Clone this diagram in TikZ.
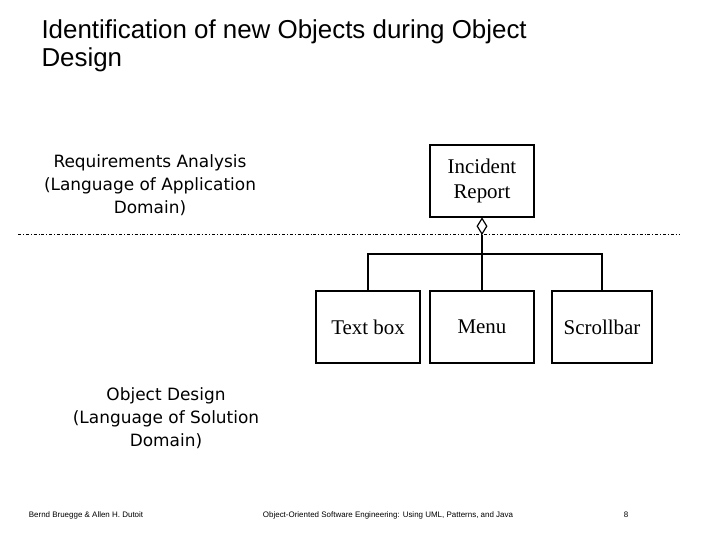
\documentclass[tikz,border=0pt]{standalone}
\usepackage{fontspec}
\setmainfont{Liberation Serif}
\newfontfamily\arialfont{Liberation Sans}
\newfontfamily\dejafont{DejaVu Sans}
\usetikzlibrary{positioning,shapes.geometric}

\tikzset{
    classbox/.style={draw=black,line width=1.2pt,minimum width=104bp,minimum height=72bp,
        font=\fontsize{21}{25}\selectfont,align=center,inner sep=2pt},
    langtext/.style={font=\dejafont\fontsize{17}{23}\selectfont,align=center},
    footer/.style={font=\arialfont\fontsize{8}{10}\selectfont}
}

\begin{document}
\begin{tikzpicture}[x=1bp,y=-1bp]
    \useasboundingbox (0,0) rectangle (720,540);

    \node[anchor=north west,align=left,font=\arialfont\fontsize{26}{28}\selectfont] (title) at (38,16)
        {Identification of new Objects during Object\\Design};

    \node[langtext] (req) at (150,185) {Requirements Analysis\\(Language of Application\\Domain)};
    \node[langtext] (od) at (166,418) {Object Design\\(Language of Solution\\Domain)};

    \node[classbox] (incident) at (482,181) {Incident\\Report};
    \node[classbox] (textbox) at (368,327) {Text box};
    \node[classbox] (menu) at (482,327) {Menu};
    \node[classbox,minimum width=100bp] (scroll) at (602,327) {Scrollbar};

    % boundary between the two languages
    \draw[line width=0.8pt,dash dot] (18,234) -- (680,234);

    % aggregation
    \coordinate (bar) at (482,254);
    \node[draw,line width=1.2pt,fill=white,shape=diamond,inner sep=0pt,minimum width=10bp,minimum height=16bp,anchor=north] (dia) at (incident.south) {};
    \draw[line width=1.2pt] (dia.south) -- (bar);
    \draw[line width=1.2pt] (textbox.north) |- (bar) -| (scroll.north);
    \draw[line width=1.2pt] (bar) -- (menu.north);

    \node[footer] (authors) at (86,515) {Bernd Bruegge \& Allen H. Dutoit};
    \node[footer] (book) at (388,515) {Object-Oriented Software Engineering: Using UML, Patterns, and Java};
    \node[footer] (page) at (626,515) {8};
\end{tikzpicture}
\end{document}
